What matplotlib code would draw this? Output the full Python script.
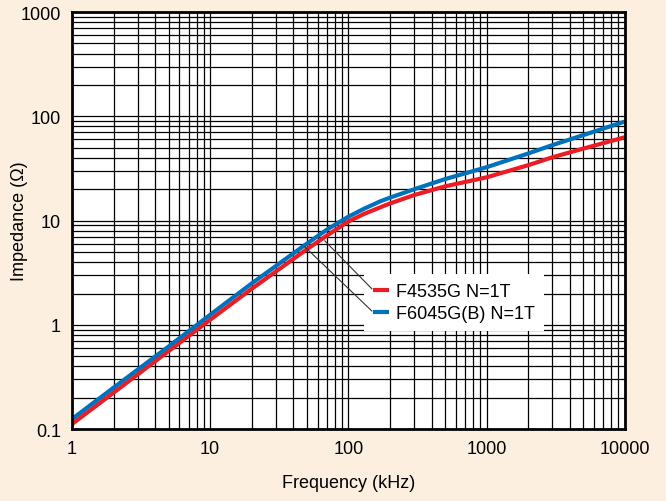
import matplotlib
matplotlib.use("Agg")
import matplotlib.pyplot as plt

# Impedance vs frequency, single turn
freq_khz = [1, 2, 5, 10, 20, 50, 70, 100, 130, 170, 200, 300, 500, 1000, 2000, 3000, 5000, 10000]
z_f4535g = [0.112, 0.224, 0.56, 1.12, 2.22, 5.3, 7.2, 9.8, 11.6, 13.4, 14.6, 17.6, 21.3, 26.0, 34.0, 40.5, 49.0, 63.0]
z_f6045g = [0.125, 0.25, 0.62, 1.25, 2.5, 6.0, 8.2, 10.9, 13.0, 15.3, 16.6, 20.0, 25.0, 32.5, 44.0, 53.0, 66.0, 89.0]

series_names = ["F4535G N=1T", "F6045G(B) N=1T"]
series_colors = ["#ed1c24", "#0072bc"]

x_ticks = [1, 10, 100, 1000, 10000]
y_ticks = [0.1, 1, 10, 100, 1000]

# leader lines from legend entries to curves: (curve point, legend point)
leaders = [((67.6, 6.4), (148, 2.22)),
           ((48.5, 5.6), (148, 1.36))]

bg = "#fcefdf"
plt.rcParams["font.family"] = ["Liberation Sans", "DejaVu Sans"]
plt.rcParams["font.size"] = 13

fig = plt.figure(figsize=(6.66, 5.02), dpi=100, facecolor=bg)
ax = fig.add_axes([0.108, 0.143, 0.830, 0.831])

ax.set_xscale("log")
ax.set_yscale("log")
ax.set_xlim(1, 10000)
ax.set_ylim(0.1, 1000)

ax.grid(True, which="both", color="black", linewidth=0.9)
ax.set_axisbelow(True)

for (p0, p1) in leaders:
    ax.plot([p0[0], p1[0]], [p0[1], p1[1]], color="#333333", linewidth=0.8, zorder=6)

for z, name, c in zip([z_f4535g, z_f6045g], series_names, series_colors):
    ax.plot(freq_khz, z, color=c, linewidth=3, label=name, zorder=4,
            solid_capstyle="butt")

leg = ax.legend(loc="upper left", bbox_to_anchor=(0.528, 0.371), frameon=True,
                fancybox=False, edgecolor="none", facecolor="white", framealpha=1,
                handlelength=0.9, handletextpad=0.4, borderpad=0.5,
                labelspacing=0.25, fontsize=13, borderaxespad=0)
leg.set_zorder(5)

ax.set_xticks(x_ticks)
ax.set_xticklabels([str(v) for v in x_ticks])
ax.set_yticks(y_ticks)
ax.set_yticklabels(["0.1", "1", "10", "100", "1000"])
ax.tick_params(which="both", length=0, pad=8)

for s in ax.spines.values():
    s.set_linewidth(2)
    s.set_zorder(7)

ax.set_xlabel("Frequency (kHz)", labelpad=12)
fig.text(20 / 666, 0.56, "Impedance (\u03a9)", rotation=90, ha="center", va="center")

fig.savefig("out.png", dpi=100, facecolor=bg)
